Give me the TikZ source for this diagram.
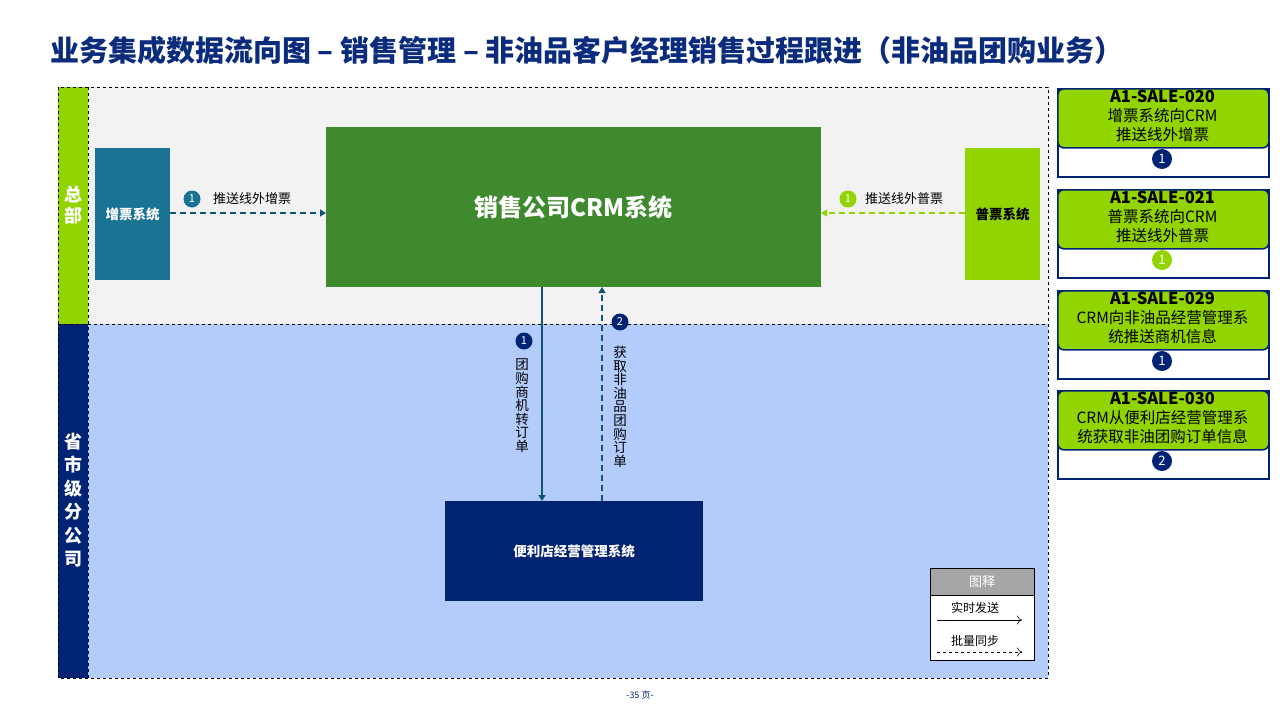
\documentclass[tikz,border=0pt]{standalone}
\usepackage{fontspec}
\setmainfont{Noto Sans CJK SC}
\usetikzlibrary{arrows.meta}
\definecolor{navy}{HTML}{002473}
\definecolor{titleblue}{HTML}{0B2C7C}
\definecolor{lime}{HTML}{92D400}
\definecolor{crmgreen}{HTML}{3F8A2F}
\definecolor{teal}{HTML}{1B7394}
\definecolor{arrowteal}{HTML}{0E5674}
\definecolor{topgray}{HTML}{F2F2F2}
\definecolor{botblue}{HTML}{B3CCFB}
\definecolor{leggray}{HTML}{A6A6A6}
\begin{document}
\begin{tikzpicture}[x=1pt,y=-1pt,
  sysbox/.style={inner sep=0pt,font=\fontsize{13.5}{15}\selectfont\bfseries},
  badge/.style={circle,inner sep=0pt,minimum size=17pt,text=white,font=\fontsize{11}{12}\selectfont},
  lbl/.style={inner sep=0pt,font=\fontsize{13}{14}\selectfont},
  vlbl/.style={inner sep=0pt,align=center,font=\fontsize{13.5}{13.6}\selectfont},
  flow/.style={line width=1.6pt,-{Triangle[length=6pt,width=7pt]}},
  panelgreen/.style={fill=lime,draw=navy,line width=1.6pt,rounded corners=6pt},
  paneltxt/.style={align=center,inner sep=0pt,font=\fontsize{15.5}{19}\selectfont},
]
\useasboundingbox (0,0) rectangle (1280,720);
\fill[white] (0,0) rectangle (1280,720);
% title
\node[anchor=west,inner sep=0pt,text=titleblue,font=\fontsize{29}{32}\selectfont\bfseries] (title) at (50,50) {业务集成数据流向图 – 销售管理 – 非油品客户经理销售过程跟进（非油品团购业务）};
% regions
\fill[topgray] (88,87) rectangle (1048,324);
\fill[botblue] (88,324) rectangle (1048,678);
\fill[lime] (58,87) rectangle (88,324);
\fill[navy] (58,324) rectangle (88,678);
\draw[dashed,line width=0.6pt] (58,87) rectangle (1048,678);
\draw[dashed,line width=0.6pt] (58,324) -- (1048,324);
\draw[dashed,line width=0.6pt] (88,87) -- (88,678);
\node[text=white,align=center,inner sep=0pt,font=\fontsize{18}{21}\selectfont\bfseries] (hq) at (73,205) {总\\部};
\node[text=white,align=center,inner sep=0pt,font=\fontsize{18}{23.5}\selectfont\bfseries] (prov) at (73,500) {省\\市\\级\\分\\公\\司};
% systems
\node[sysbox,fill=teal,text=white,minimum width=75pt,minimum height=132pt] (zp) at (132.5,214) {增票系统};
\node[sysbox,fill=crmgreen,text=white,minimum width=495pt,minimum height=160pt,font=\fontsize{24}{28}\selectfont\bfseries] (crm) at (573.5,207) {销售公司CRM系统};
\node[sysbox,fill=lime,text=black,minimum width=75pt,minimum height=132pt] (pp) at (1002.5,214) {普票系统};
\node[sysbox,fill=navy,text=white,minimum width=258pt,minimum height=100pt] (bl) at (574,551) {便利店经营管理系统};
% flows
\coordinate (zpR) at (170,213);
\coordinate (crmL) at (326,213);
\coordinate (crmR) at (821,213);
\coordinate (ppL) at (965,213);
\draw[flow,arrowteal,dash pattern=on 6pt off 4pt] (zpR) -- (crmL);
\draw[flow,lime,dash pattern=on 6pt off 4pt] (ppL) -- (crmR);
\coordinate (crmB1) at (542,287);
\coordinate (blT1) at (542,501);
\coordinate (crmB2) at (602,287);
\coordinate (blT2) at (602,501);
\draw[flow,arrowteal] (crmB1) -- (blT1);
\draw[flow,arrowteal,dash pattern=on 6pt off 4pt] (blT2) -- (crmB2);
% badges and labels
\node[badge,fill=teal] (b1) at (192,199) {1};
\node[lbl,anchor=west] (l1) at (213,199) {推送线外增票};
\node[badge,fill=lime] (b2) at (848,199) {1};
\node[lbl,anchor=west] (l2) at (865,199) {推送线外普票};
\node[badge,fill=navy] (b3) at (524,341) {1};
\node[vlbl,anchor=north] (l3) at (522,359) {团\\购\\商\\机\\转\\订\\单};
\node[badge,fill=navy] (b4) at (620,322) {2};
\node[vlbl,anchor=north] (l4) at (620,346) {获\\取\\非\\油\\品\\团\\购\\订\\单};
% legend
\node[draw=black,line width=0.6pt,fill=white,minimum width=104pt,minimum height=92pt,inner sep=0pt] (leg) at (982,614) {};
\node[draw=black,line width=0.6pt,fill=leggray,minimum width=104pt,minimum height=27pt,inner sep=0pt,text=white,font=\fontsize{13}{15}\selectfont] (legh) at (982,581.5) {图释};
\node[inner sep=0pt,font=\fontsize{12}{14}\selectfont] (lega) at (975,608) {实时发送};
\node[inner sep=0pt,font=\fontsize{12}{14}\selectfont] (legb) at (975,641) {批量同步};
\coordinate (la1) at (937,620);
\coordinate (la2) at (1022,620);
\coordinate (lb1) at (937,652);
\coordinate (lb2) at (1022,652);
\draw[line width=0.6pt,-{To[length=5pt,width=9pt]}] (la1) -- (la2);
\draw[line width=0.6pt,dashed,-{To[length=5pt,width=9pt]}] (lb1) -- (lb2);
% right panels
\foreach \y/\code/\la/\lb/\num/\bc [count=\i] in {88/020/增票系统向CRM/推送线外增票/1/navy, 189/021/普票系统向CRM/推送线外普票/1/lime, 290/029/CRM向非油品经营管理系/统推送商机信息/1/navy, 390/030/CRM从便利店经营管理系/统获取非油团购订单信息/2/navy}{
  \node[draw=navy,line width=1.6pt,fill=white,minimum width=211pt,minimum height=88pt,inner sep=0pt,anchor=north west] (p\i) at (1057,\y) {};
  \node[panelgreen,minimum width=211pt,minimum height=59pt,inner sep=0pt,anchor=north west] (g\i) at (1057,\y) {};
  \node[paneltxt] (t\i) at (1162.5,\y+28) {{\fontsize{16.5}{19}\selectfont\bfseries A1-SALE-\code}\\\la\\\lb};
  \node[badge,fill=\bc,minimum size=20pt,font=\fontsize{13}{14}\selectfont] (c\i) at (1162,\y+71) {\num};
}
% page number
\node[inner sep=0pt,text=navy,font=\fontsize{9}{10}\selectfont] (pg) at (640,695) {-35 页-};
\end{tikzpicture}
\end{document}
